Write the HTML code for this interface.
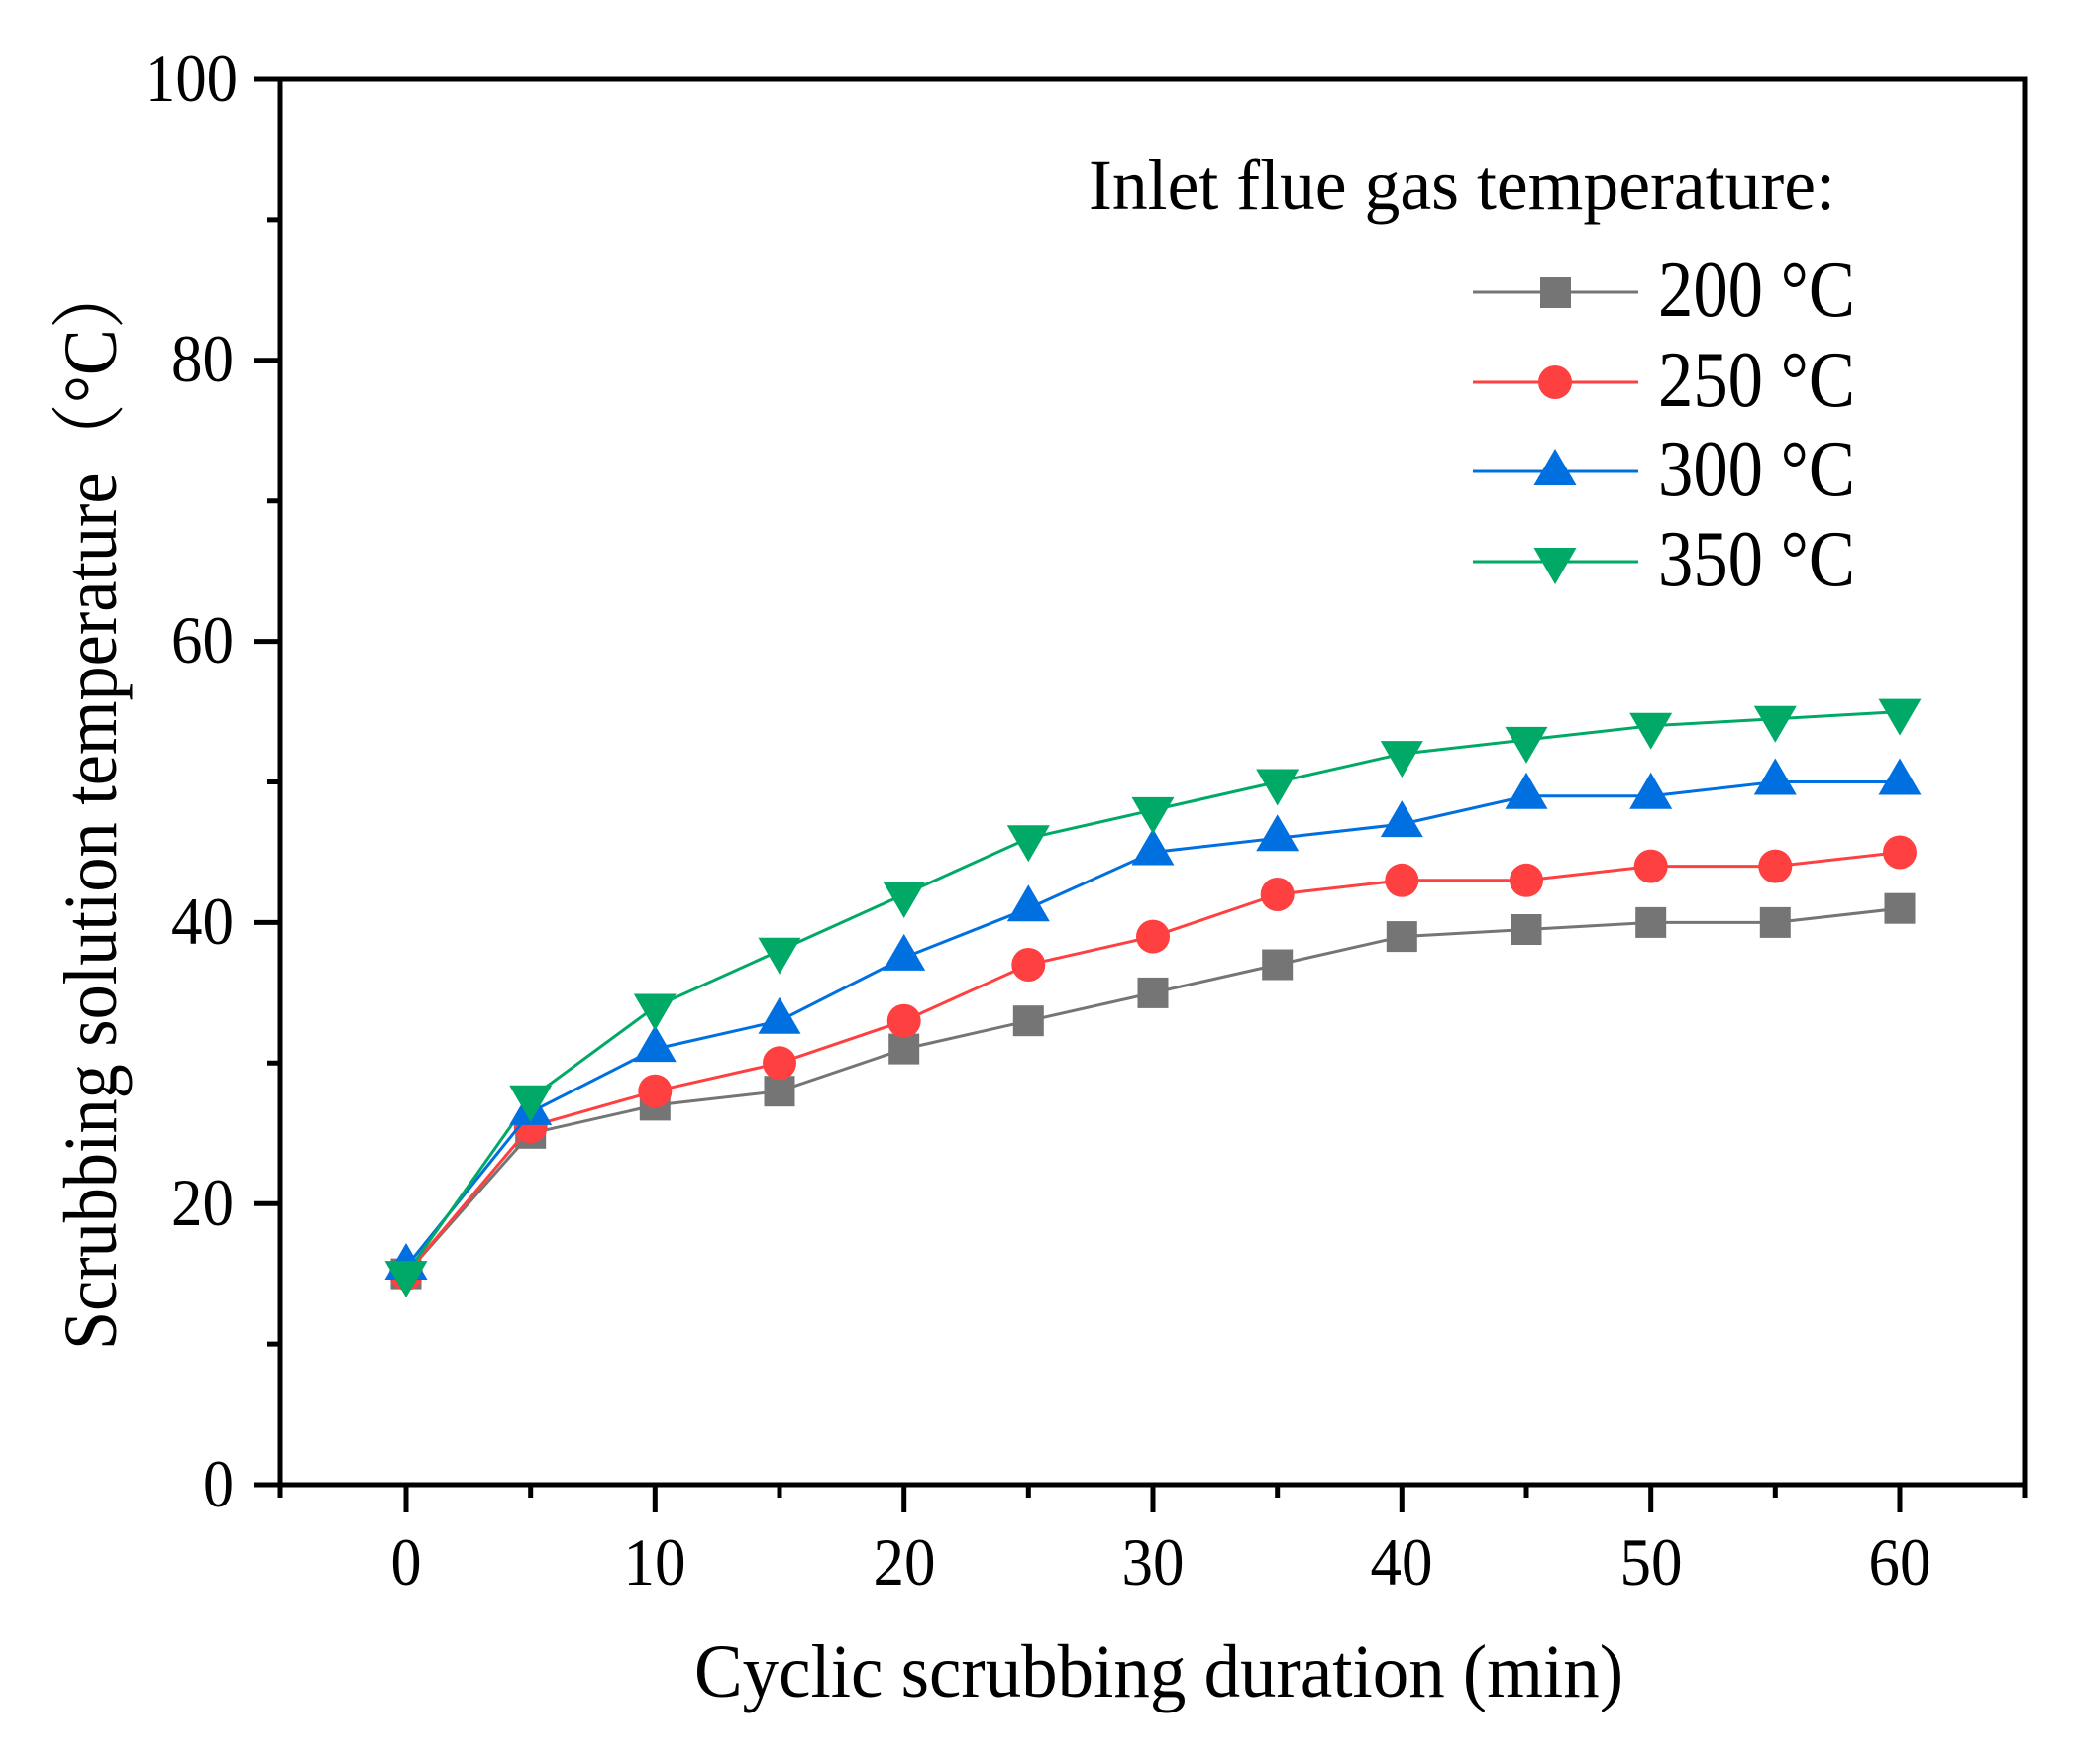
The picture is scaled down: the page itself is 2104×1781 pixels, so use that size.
<!DOCTYPE html>
<html><head><meta charset="utf-8"><style>html,body{margin:0;padding:0;background:#fff}svg{display:block}</style></head>
<body>
<svg width="2104" height="1781" viewBox="0 0 2104 1781" xmlns="http://www.w3.org/2000/svg" font-family="'Liberation Serif','Noto Serif CJK SC',serif">
<rect width="2104" height="1781" fill="#fff"/>
<g stroke="#000" stroke-width="5" fill="none">
<rect x="283" y="80" width="1761" height="1419"/>
<path d="M256 1499H283M256 1215.2H283M256 931.4H283M256 647.6H283M256 363.8H283M256 80H283
M270 1357.1H283M270 1073.3H283M270 789.5H283M270 505.7H283M270 221.9H283"/>
<path d="M410 1499V1527M661.3 1499V1527M912.7 1499V1527M1164 1499V1527M1415.3 1499V1527M1666.7 1499V1527M1918 1499V1527
M283 1499V1512M535.7 1499V1512M787 1499V1512M1038.3 1499V1512M1289.7 1499V1512M1541 1499V1512M1792.3 1499V1512M2044 1499V1512"/>
</g>
<g font-size="68" text-anchor="end" lengthAdjust="spacingAndGlyphs">
<text x="236" y="1521" textLength="31" lengthAdjust="spacingAndGlyphs">0</text>
<text x="236" y="1237" textLength="63" lengthAdjust="spacingAndGlyphs">20</text>
<text x="236" y="953" textLength="63" lengthAdjust="spacingAndGlyphs">40</text>
<text x="236" y="669" textLength="63" lengthAdjust="spacingAndGlyphs">60</text>
<text x="236" y="385" textLength="63" lengthAdjust="spacingAndGlyphs">80</text>
<text x="240" y="102" textLength="94" lengthAdjust="spacingAndGlyphs">100</text>
</g>
<g font-size="68" text-anchor="middle">
<text x="410" y="1600" textLength="31" lengthAdjust="spacingAndGlyphs">0</text>
<text x="661" y="1600" textLength="63" lengthAdjust="spacingAndGlyphs">10</text>
<text x="913" y="1600" textLength="63" lengthAdjust="spacingAndGlyphs">20</text>
<text x="1164" y="1600" textLength="63" lengthAdjust="spacingAndGlyphs">30</text>
<text x="1415" y="1600" textLength="63" lengthAdjust="spacingAndGlyphs">40</text>
<text x="1667" y="1600" textLength="63" lengthAdjust="spacingAndGlyphs">50</text>
<text x="1918" y="1600" textLength="63" lengthAdjust="spacingAndGlyphs">60</text>
</g>
<text x="701" y="1713" font-size="76" textLength="938" lengthAdjust="spacingAndGlyphs">Cyclic scrubbing duration (min)</text>
<text transform="translate(117,1363) rotate(-90)" font-size="76" textLength="1101" lengthAdjust="spacingAndGlyphs">Scrubbing solution temperature（°C）</text>

<g stroke="#757575" stroke-width="3" fill="#757575">
<polyline fill="none" points="410,1286.1 535.7,1144.3 661.3,1115.9 787,1101.7 912.7,1059.1 1038.3,1030.7 1164,1002.4 1289.7,974 1415.3,945.6 1541,938.5 1666.7,931.4 1792.3,931.4 1918,917.2"/>
<g stroke="none">
<rect x="394.5" y="1270.6" width="31" height="31"/><rect x="520.2" y="1128.8" width="31" height="31"/><rect x="645.8" y="1100.4" width="31" height="31"/><rect x="771.5" y="1086.2" width="31" height="31"/><rect x="897.2" y="1043.6" width="31" height="31"/><rect x="1022.8" y="1015.2" width="31" height="31"/><rect x="1148.5" y="986.9" width="31" height="31"/><rect x="1274.2" y="958.5" width="31" height="31"/><rect x="1399.8" y="930.1" width="31" height="31"/><rect x="1525.5" y="923" width="31" height="31"/><rect x="1651.2" y="915.9" width="31" height="31"/><rect x="1776.8" y="915.9" width="31" height="31"/><rect x="1902.5" y="901.7" width="31" height="31"/>
</g></g>
<g stroke="#FF4040" stroke-width="3" fill="#FF4040">
<polyline fill="none" points="410,1286.1 535.7,1137.2 661.3,1101.7 787,1073.3 912.7,1030.7 1038.3,974 1164,945.6 1289.7,903 1415.3,888.8 1541,888.8 1666.7,874.6 1792.3,874.6 1918,860.5"/>
<g stroke="none">
<circle cx="410" cy="1286.1" r="17"/><circle cx="535.7" cy="1137.2" r="17"/><circle cx="661.3" cy="1101.7" r="17"/><circle cx="787" cy="1073.3" r="17"/><circle cx="912.7" cy="1030.7" r="17"/><circle cx="1038.3" cy="974" r="17"/><circle cx="1164" cy="945.6" r="17"/><circle cx="1289.7" cy="903" r="17"/><circle cx="1415.3" cy="888.8" r="17"/><circle cx="1541" cy="888.8" r="17"/><circle cx="1666.7" cy="874.6" r="17"/><circle cx="1792.3" cy="874.6" r="17"/><circle cx="1918" cy="860.5" r="17"/>
</g></g>
<g stroke="#0070E0" stroke-width="3" fill="none">
<polyline points="410,1279 535.7,1122.9 661.3,1059.1 787,1030.7 912.7,966.9 1038.3,917.2 1164,860.5 1289.7,846.3 1415.3,832.1 1541,803.7 1666.7,803.7 1792.3,789.5 1918,789.5"/>
</g>
<g stroke="#00AA66" stroke-width="3" fill="none">
<polyline points="410,1286.1 535.7,1108.8 661.3,1016.5 787,959.8 912.7,903 1038.3,846.3 1164,817.9 1289.7,789.5 1415.3,761.1 1541,746.9 1666.7,732.8 1792.3,725.7 1918,718.6"/>
</g>
<script>
(function(){
var ns="http://www.w3.org/2000/svg",svg=document.querySelector("svg");
var xs=[410,535.7,661.3,787,912.7,1038.3,1164,1289.7,1415.3,1541,1666.7,1792.3,1918];
var b=[1279,1122.9,1059.1,1030.7,966.9,917.2,860.5,846.3,832.1,803.7,803.7,789.5,789.5];
var g=[1286.1,1108.8,1016.5,959.8,903,846.3,817.9,789.5,761.1,746.9,732.8,725.7,718.6];
function p(pts,c){var e=document.createElementNS(ns,"polygon");e.setAttribute("points",pts);e.setAttribute("fill",c);svg.appendChild(e);}
for(var i=0;i<13;i++){var x=xs[i],y=b[i];p((x)+","+(y-24)+" "+(x-21.5)+","+(y+13)+" "+(x+21.5)+","+(y+13),"#0070E0");}
for(var i=0;i<13;i++){var x=xs[i],y=g[i];p((x)+","+(y+24)+" "+(x-21.5)+","+(y-13)+" "+(x+21.5)+","+(y-13),"#00AA66");}
})();
</script>
<text x="1099" y="211" font-size="72" textLength="754" lengthAdjust="spacingAndGlyphs">Inlet flue gas temperature:</text>
<g stroke-width="3">
<line x1="1487" y1="295" x2="1654" y2="295" stroke="#757575"/>
<rect x="1555" y="280" width="31" height="31" fill="#757575"/>
<line x1="1487" y1="386" x2="1654" y2="386" stroke="#FF4040"/>
<circle cx="1570" cy="386" r="17" fill="#FF4040"/>
<line x1="1487" y1="476" x2="1654" y2="476" stroke="#0070E0"/>
<polygon points="1570,453 1548.5,490 1591.5,490" fill="#0070E0"/>
<line x1="1487" y1="567" x2="1654" y2="567" stroke="#00AA66"/>
<polygon points="1570,590 1548.5,553 1591.5,553" fill="#00AA66"/>
</g>
<g font-size="80">
<text x="1674" y="319" textLength="199" lengthAdjust="spacingAndGlyphs">200 °C</text>
<text x="1674" y="410" textLength="199" lengthAdjust="spacingAndGlyphs">250 °C</text>
<text x="1674" y="500" textLength="199" lengthAdjust="spacingAndGlyphs">300 °C</text>
<text x="1674" y="591" textLength="199" lengthAdjust="spacingAndGlyphs">350 °C</text>
</g>
</svg>
</body></html>
